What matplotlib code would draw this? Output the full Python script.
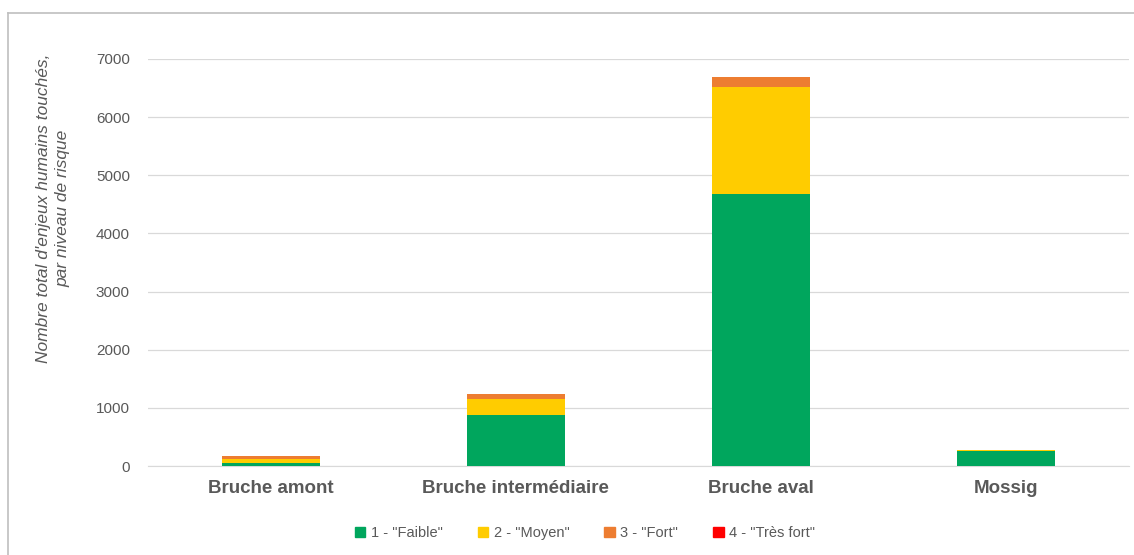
import matplotlib
matplotlib.use("Agg")
import matplotlib.pyplot as plt
from matplotlib.lines import Line2D
import numpy as np

categories = ["Bruche amont", "Bruche intermédiaire", "Bruche aval", "Mossig"]
series_names = ['1 - "Faible"', '2 - "Moyen"', '3 - "Fort"', '4 - "Très fort"']
faible = [60, 880, 4680, 260]
moyen = [60, 275, 1835, 22]
fort = [50, 80, 170, 0]
tres_fort = [0, 8, 8, 0]
yticks = [0, 1000, 2000, 3000, 4000, 5000, 6000, 7000]
colors = ["#00A65D", "#FFCC00", "#ED7D31", "#FF0000"]

plt.rcParams['font.family'] = ['Liberation Sans', 'DejaVu Sans']

W, H = 1134, 555
fig = plt.figure(figsize=(W / 100, H / 100), dpi=100)
ax = fig.add_axes([148 / W, 1 - 466 / H, (1129 - 148) / W, (466 - 59) / H])

x = np.arange(len(categories))
bottom = np.zeros(len(categories))
for vals, col, name in zip([faible, moyen, fort, tres_fort], colors, series_names):
    ax.bar(x, vals, width=0.4, bottom=bottom, color=col, label=name, zorder=3)
    bottom += np.array(vals)

ax.set_xlim(-0.5, len(categories) - 0.5)
ax.set_ylim(0, 7000)
ax.set_yticks(yticks)
ax.set_yticklabels([str(v) for v in yticks], color="#595959", fontsize=11)
ax.grid(axis="y", color="#D9D9D9", linewidth=0.9, zorder=0)
ax.tick_params(axis="y", length=0, pad=13)
ax.tick_params(axis="x", length=0, pad=10)
ax.set_xticks(x)
ax.set_xticklabels(categories, fontsize=13.5, fontweight="bold", color="#595959")
for s in ["top", "right", "left"]:
    ax.spines[s].set_visible(False)
ax.spines["bottom"].set_color("#D9D9D9")

fig.text(53 / W, 1 - 208 / H, "Nombre total d'enjeux humains touchés,\npar niveau de risque",
         rotation=90, ha="center", va="center", style="italic", fontsize=12.5,
         color="#595959", linespacing=1.35)

handles = [plt.Rectangle((0, 0), 1, 1, color=c) for c in colors]
fig.legend(handles, series_names, loc="center", bbox_to_anchor=(585 / W, 1 - 533 / H),
           ncol=4, frameon=False, fontsize=10.5, handlelength=0.7, handleheight=0.7,
           handletextpad=0.4, columnspacing=2.4, labelcolor="#595959")

# outer border (top and left)
fig.add_artist(Line2D([8 / W, 8 / W], [0, 1 - 13 / H], transform=fig.transFigure,
                      color="#BFBFBF", linewidth=1.2))
fig.add_artist(Line2D([8 / W, 1], [1 - 13 / H, 1 - 13 / H], transform=fig.transFigure,
                      color="#BFBFBF", linewidth=1.2))

fig.savefig("out.png", dpi=100)
